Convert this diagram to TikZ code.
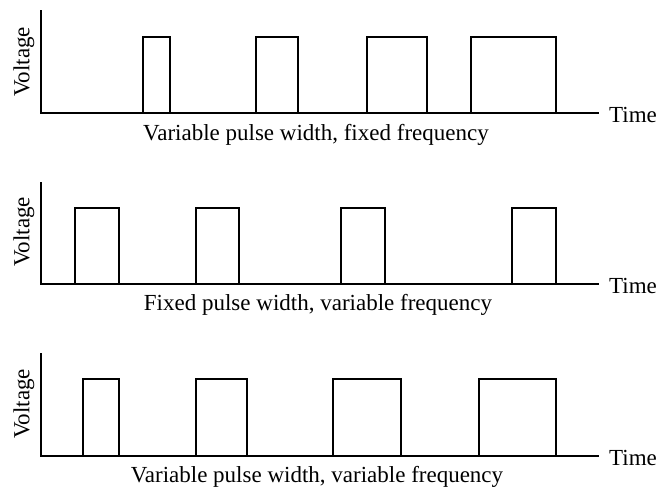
\documentclass[tikz,border=0pt]{standalone}
\usepackage{fontspec}
\setmainfont{Liberation Serif}
\begin{document}
\begin{tikzpicture}[x=1pt,y=-1pt,
  axisline/.style={line width=1.1pt},
  sigline/.style={line width=1.6pt, line join=miter},
  lbl/.style={font=\fontsize{23}{27}\selectfont, inner sep=0pt}]
\useasboundingbox (0,0) rectangle (658,491);
% Panel 1
\draw[axisline] (41,10) -- (41,113) -- (599,113);
\draw[sigline] (41,113) -- (143,113) -- (143,37) -- (170,37) -- (170,113)
  -- (256,113) -- (256,37) -- (298,37) -- (298,113)
  -- (367,113) -- (367,37) -- (427,37) -- (427,113)
  -- (471,113) -- (471,37) -- (556,37) -- (556,113);
\node[lbl, rotate=90] (v1) at (24,62) {Voltage};
\node[lbl, anchor=base west] (t1) at (609,122) {Time};
\node[lbl, anchor=base] (c1) at (316,140) {Variable pulse width, fixed frequency};
% Panel 2
\draw[axisline] (41,182) -- (41,284) -- (599,284);
\draw[sigline] (41,284) -- (75,284) -- (75,208) -- (119,208) -- (119,284)
  -- (196,284) -- (196,208) -- (239,208) -- (239,284)
  -- (341,284) -- (341,208) -- (385,208) -- (385,284)
  -- (512,284) -- (512,208) -- (556,208) -- (556,284);
\node[lbl, rotate=90] (v2) at (24,232) {Voltage};
\node[lbl, anchor=base west] (t2) at (609,293) {Time};
\node[lbl, anchor=base] (c2) at (318,310) {Fixed pulse width, variable frequency};
% Panel 3
\draw[axisline] (41,353) -- (41,456) -- (599,456);
\draw[sigline] (41,456) -- (83,456) -- (83,379) -- (119,379) -- (119,456)
  -- (196,456) -- (196,379) -- (247,379) -- (247,456)
  -- (333,456) -- (333,379) -- (401,379) -- (401,456)
  -- (479,456) -- (479,379) -- (556,379) -- (556,456);
\node[lbl, rotate=90] (v3) at (24,404) {Voltage};
\node[lbl, anchor=base west] (t3) at (609,465) {Time};
\node[lbl, anchor=base] (c3) at (317,482) {Variable pulse width, variable frequency};
\end{tikzpicture}
\end{document}
